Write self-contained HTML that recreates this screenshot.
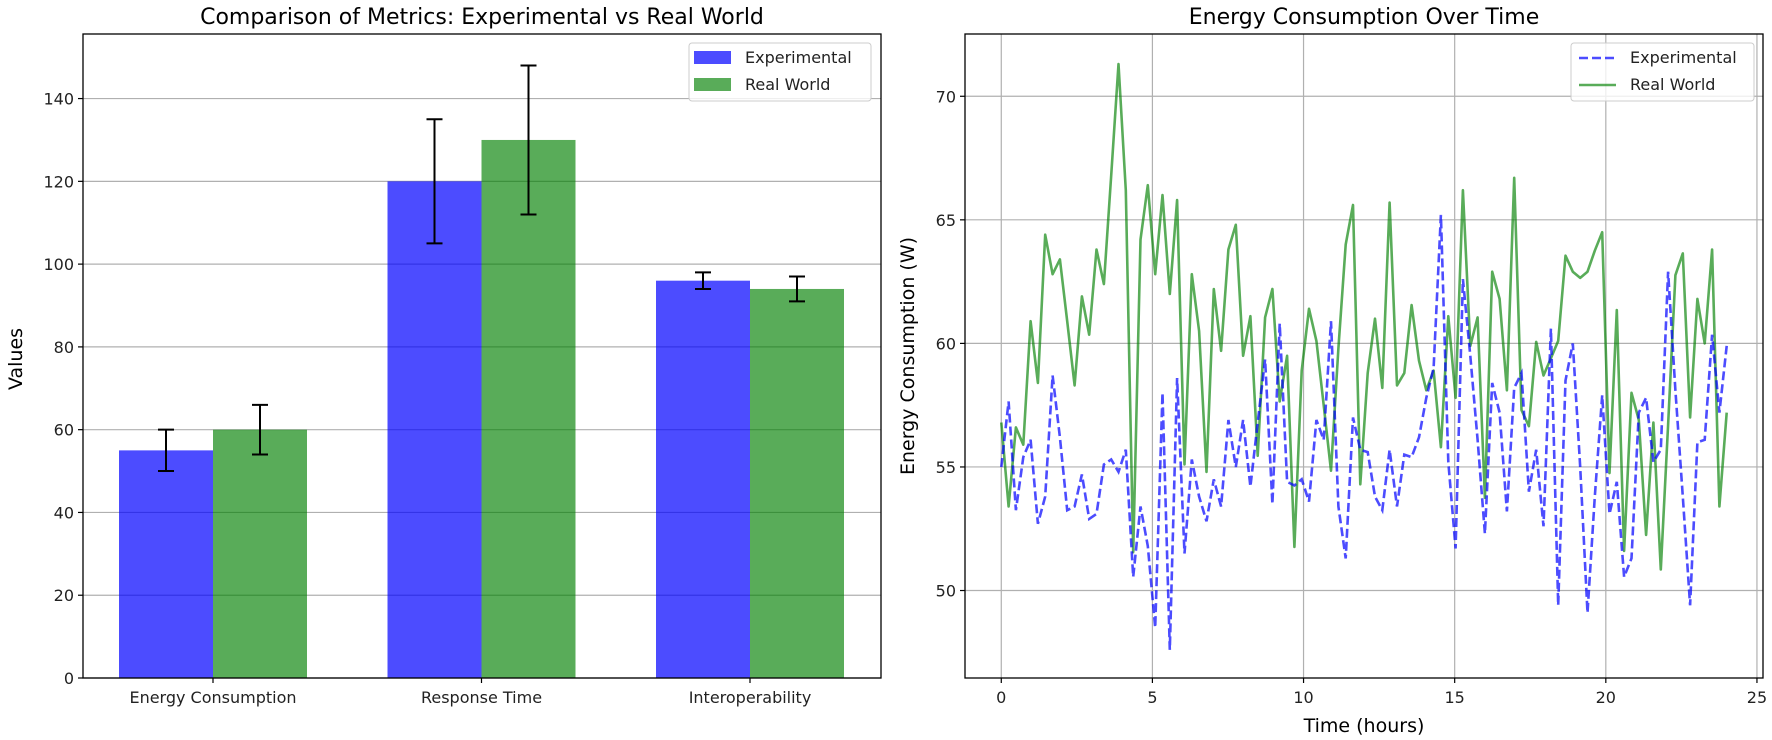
<!DOCTYPE html>
<html><head><meta charset="utf-8"><style>
html,body{margin:0;padding:0;background:#fff;}
svg{display:block;font-family:"DejaVu Sans","Liberation Sans",sans-serif;}
</style></head><body>
<svg id="fig" width="1772" height="740" viewBox="0 0 1772 740" xmlns="http://www.w3.org/2000/svg">
<rect width="1772" height="740" fill="#fff"/>
<g id="left"></g>
<g id="right"></g>
</svg>
<script>
const categories = ["Energy Consumption", "Response Time", "Interoperability"];
const expValues = [55, 120, 96];
const expErrors = [5, 15, 2];
const realValues = [60, 130, 94];
const realErrors = [6, 18, 3];
const barTicks = [0, 20, 40, 60, 80, 100, 120, 140];

const timeTicks = [0, 5, 10, 15, 20, 25];
const energyTicks = [50, 55, 60, 65, 70];
const expSeries = [55.0,57.65,53.25,55.4,56.1,52.7,53.8,58.7,56.2,53.25,
53.4,54.7,52.9,53.1,55.1,55.3,54.8,55.7,50.55,53.4,
51.8,48.5,58.0,47.6,58.6,51.5,55.3,53.8,52.8,54.5,
53.4,56.9,55.0,56.9,54.2,56.8,59.35,53.5,60.8,54.4,
54.25,54.5,53.6,56.9,56.1,60.9,53.4,51.3,57.0,55.7,
55.6,53.8,53.25,55.7,53.4,55.5,55.4,56.2,57.8,59.0,
65.2,55.2,51.7,62.6,59.5,56.1,52.3,58.4,57.2,53.2,
58.2,58.8,54.0,55.7,52.6,60.6,49.4,58.5,60.0,55.0,
49.1,53.8,57.9,53.1,54.4,50.55,51.3,57.2,57.8,55.2,
55.7,62.9,58.1,53.8,49.4,56.0,56.1,60.35,57.2,59.9];
const realSeries = [56.8,53.4,56.6,55.9,60.9,58.4,64.4,62.8,63.4,60.9,
58.3,61.9,60.35,63.8,62.4,66.8,71.3,66.2,51.55,64.2,
66.4,62.8,66.0,62.0,65.8,55.1,62.8,60.5,54.8,62.2,
59.7,63.8,64.8,59.5,61.1,55.45,61.05,62.2,57.65,59.5,
51.76,58.9,61.4,60.1,57.5,54.85,59.8,64.0,65.6,54.3,
58.8,61.0,58.2,65.7,58.3,58.8,61.55,59.3,58.1,58.9,
55.8,61.1,57.8,66.2,59.9,61.05,53.75,62.9,61.8,58.1,
66.7,57.3,56.65,60.06,58.7,59.4,60.1,63.55,62.9,62.65,
62.9,63.75,64.5,54.75,61.35,51.6,58.0,56.9,52.25,56.8,
50.85,56.7,62.76,63.64,57.0,61.8,60.0,63.8,53.4,57.2];
const tStart = 0, tEnd = 24;

const NS = "http://www.w3.org/2000/svg";
function mk(parent, tag, attrs, text) {
  const e = document.createElementNS(NS, tag);
  for (const k in attrs) e.setAttribute(k, attrs[k]);
  if (text !== undefined) e.textContent = text;
  parent.appendChild(e);
  return e;
}
const BLUE = "rgba(0,0,255,0.7)", GREEN = "rgba(0,128,0,0.65)";

/* ---------- Left bar chart ---------- */
(function(){
  const g = document.getElementById("left");
  const L = 83, R = 881, T = 34, B = 678;
  const yMax = 155.6;
  const y = v => B - v / yMax * (B - T);
  const xc = i => 213 + i * 268.5;
  const bw = 94;
  barTicks.forEach(t => {
    const gl = mk(g, "line", {x1:L, x2:R, y1:y(t), y2:y(t), stroke:"#b0b0b0", "stroke-width":1.2});
    
    
    mk(g, "line", {x1:L-5, x2:L, y1:y(t), y2:y(t), stroke:"#000", "stroke-width":1.2});
    const tl = mk(g, "text", {x:L-9, y:y(t)+6, "text-anchor":"end", "font-size":16, fill:"#222"}, t);
    
    
  });
  categories.forEach((c, i) => {
    const b1 = mk(g, "rect", {x:xc(i)-bw, y:y(expValues[i]), width:bw, height:B-y(expValues[i]), fill:BLUE});
    
    
    const b2 = mk(g, "rect", {x:xc(i), y:y(realValues[i]), width:bw, height:B-y(realValues[i]), fill:GREEN});
    
    
    [[xc(i)-bw/2, expValues[i], expErrors[i]], [xc(i)+bw/2, realValues[i], realErrors[i]]].forEach(([cx, v, e]) => {
      const eb = mk(g, "path", {d:`M${cx},${y(v-e)}V${y(v+e)}M${cx-8},${y(v-e)}H${cx+8}M${cx-8},${y(v+e)}H${cx+8}`, stroke:"#000", "stroke-width":2, fill:"none"});
      
      
    });
    mk(g, "line", {x1:xc(i), x2:xc(i), y1:B, y2:B+5, stroke:"#000", "stroke-width":1.2});
    const xl = mk(g, "text", {x:xc(i), y:703, "text-anchor":"middle", "font-size":16, fill:"#222"}, c);
    
    
  });
  mk(g, "rect", {x:L, y:T, width:R-L, height:B-T, fill:"none", stroke:"#000", "stroke-width":1.3});
  const title = mk(g, "text", {x:(L+R)/2, y:24, "text-anchor":"middle", "font-size":22, fill:"#000"}, "Comparison of Metrics: Experimental vs Real World");
  
  
  const yl = mk(g, "text", {x:0, y:0, transform:"translate(22,359) rotate(-90)", "text-anchor":"middle", "font-size":19, fill:"#000"}, "Values");
  
  
  const lg = mk(g, "g", {});
  
  
  mk(lg, "rect", {x:689, y:43, width:182, height:58, rx:3, fill:"rgba(255,255,255,0.8)", stroke:"#ccc"});
  const e1 = mk(lg, "g", {});
  
  
  mk(e1, "rect", {x:694, y:51, width:37, height:13, fill:BLUE});
  mk(e1, "text", {x:745, y:63, "font-size":16, fill:"#222"}, "Experimental");
  const e2 = mk(lg, "g", {});
  
  
  mk(e2, "rect", {x:694, y:78, width:37, height:13, fill:GREEN});
  mk(e2, "text", {x:745, y:90, "font-size":16, fill:"#222"}, "Real World");
})();

/* ---------- Right line chart ---------- */
(function(){
  const g = document.getElementById("right");
  const L = 965, R = 1763, T = 34, B = 678;
  const xMin = -1.2, xMax = 25.2, yMin = 46.46, yMax = 72.52;
  const x = v => L + (v - xMin) / (xMax - xMin) * (R - L);
  const y = v => B - (v - yMin) / (yMax - yMin) * (B - T);
  timeTicks.forEach(t => {
    const gl = mk(g, "line", {x1:x(t), x2:x(t), y1:T, y2:B, stroke:"#b0b0b0", "stroke-width":1.2});
    
    
    mk(g, "line", {x1:x(t), x2:x(t), y1:B, y2:B+5, stroke:"#000", "stroke-width":1.2});
    const tl = mk(g, "text", {x:x(t), y:703, "text-anchor":"middle", "font-size":16, fill:"#222"}, t);
    
    
  });
  energyTicks.forEach(t => {
    const gl = mk(g, "line", {x1:L, x2:R, y1:y(t), y2:y(t), stroke:"#b0b0b0", "stroke-width":1.2});
    
    
    mk(g, "line", {x1:L-5, x2:L, y1:y(t), y2:y(t), stroke:"#000", "stroke-width":1.2});
    const tl = mk(g, "text", {x:L-9, y:y(t)+6, "text-anchor":"end", "font-size":16, fill:"#222"}, t);
    
    
  });
  const n = realSeries.length;
  const tx = i => tStart + (tEnd - tStart) * i / (n - 1);
  const pts = arr => arr.map((v, i) => x(tx(i)).toFixed(1) + "," + y(v).toFixed(1)).join(" ");
  const lr = mk(g, "polyline", {points:pts(realSeries), fill:"none", stroke:GREEN, "stroke-width":2.6, "stroke-linejoin":"round"});
  
  
  const le = mk(g, "polyline", {points:pts(expSeries), fill:"none", stroke:BLUE, "stroke-width":2.6, "stroke-dasharray":"9,4"});
  
  
  mk(g, "rect", {x:L, y:T, width:R-L, height:B-T, fill:"none", stroke:"#000", "stroke-width":1.3});
  const title = mk(g, "text", {x:(L+R)/2, y:24, "text-anchor":"middle", "font-size":22, fill:"#000"}, "Energy Consumption Over Time");
  
  
  const xl = mk(g, "text", {x:(L+R)/2, y:732, "text-anchor":"middle", "font-size":19, fill:"#000"}, "Time (hours)");
  
  
  const yl = mk(g, "text", {x:0, y:0, transform:"translate(914,356) rotate(-90)", "text-anchor":"middle", "font-size":19, fill:"#000"}, "Energy Consumption (W)");
  
  
  const lg = mk(g, "g", {});
  
  
  mk(lg, "rect", {x:1571, y:43, width:183, height:58, rx:3, fill:"rgba(255,255,255,0.8)", stroke:"#ccc"});
  const e1 = mk(lg, "g", {});
  
  
  mk(e1, "line", {x1:1579, x2:1616, y1:58, y2:58, stroke:BLUE, "stroke-width":2.6, "stroke-dasharray":"9,4"});
  mk(e1, "text", {x:1630, y:63, "font-size":16, fill:"#222"}, "Experimental");
  const e2 = mk(lg, "g", {});
  
  
  mk(e2, "line", {x1:1579, x2:1616, y1:85, y2:85, stroke:GREEN, "stroke-width":2.6});
  mk(e2, "text", {x:1630, y:90, "font-size":16, fill:"#222"}, "Real World");
})();
</script>
</body></html>
